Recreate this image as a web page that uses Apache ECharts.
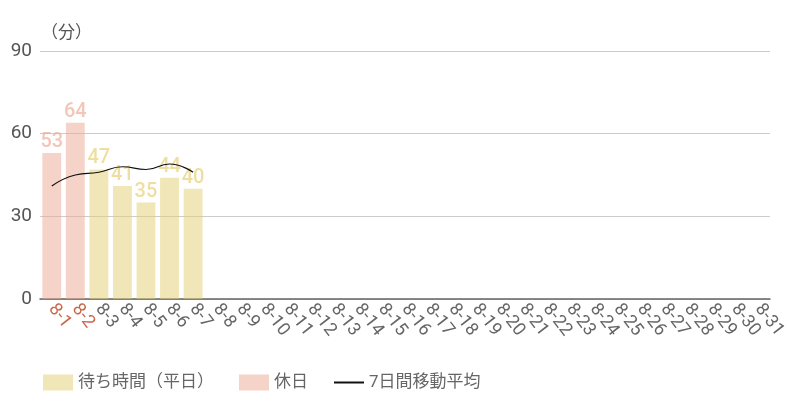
<!DOCTYPE html>
<html lang="ja">
<head>
    <meta charset="UTF-8">
    <title>待ち時間</title>
    <script src="https://cdn.jsdelivr.net/npm/echarts@6/dist/echarts.min.js"></script>
</head>
<style type="text/css">
    html,body,#chart{
        width: 800px;
        height: 400px;
        margin: 0;
        padding: 0;
        background: #fff;
    }
</style>
<body>
<div id="chart"></div>
<script>
    // 8月の日付
    var days = ['8-1','8-2','8-3','8-4','8-5','8-6','8-7','8-8','8-9','8-10','8-11','8-12','8-13','8-14','8-15','8-16',
        '8-17','8-18','8-19','8-20','8-21','8-22','8-23','8-24','8-25','8-26','8-27','8-28','8-29','8-30','8-31'];
    var holidays = ['8-1','8-2'];
    var weekdayWait = ['-','-',47,41,35,44,40];
    var holidayWait = [53,64];
    var movingAvg = [41,45,46,48,47,49,46];
    var yTicks = [0,30,60,90];

    var fontJa = 'Roboto, "Noto Sans CJK JP", sans-serif';
    var weekdayColor = 'rgba(228,206,112,0.5)';
    var holidayColor = 'rgba(236,168,146,0.5)';

    var myChart = echarts.init(document.getElementById('chart'));
    var options = {
        animation: false,
        textStyle: {fontFamily: fontJa},
        title: {
            text: '（分）',
            left: 36,
            top: 20,
            textStyle: {fontSize: 17, fontWeight: 'normal', color: '#555', fontFamily: fontJa}
        },
        grid: {left: 40, right: 30, top: 51, bottom: 101},
        legend: {
            left: 38,
            top: 369,
            itemWidth: 30,
            itemHeight: 16,
            itemGap: 25,
            textStyle: {fontSize: 17, color: '#666', fontFamily: fontJa},
            data: [
                {name: '待ち時間（平日）', icon: 'rect'},
                {name: '休日', icon: 'rect'},
                {name: '7日間移動平均', itemStyle: {opacity: 0}, lineStyle: {width: 2, color: '#111'}}
            ]
        },
        xAxis: {
            type: 'category',
            data: days,
            axisLine: {lineStyle: {color: '#666', width: 1.5}},
            axisTick: {show: false},
            axisLabel: {
                interval: 0,
                rotate: -52,
                fontSize: 18,
                margin: 7,
                fontFamily: fontJa,
                color: function (v) {
                    return holidays.indexOf(v) >= 0 ? '#c8684c' : '#666';
                }
            }
        },
        yAxis: {
            type: 'value',
            min: yTicks[0],
            max: yTicks[yTicks.length - 1],
            interval: 30,
            axisLine: {show: false},
            axisTick: {show: false},
            axisLabel: {fontSize: 19, color: '#555', margin: 8, fontFamily: fontJa},
            splitLine: {lineStyle: {color: '#ccc'}}
        },
        series: [{
            name: '待ち時間（平日）',
            type: 'bar',
            barWidth: '80%',
            barGap: '-100%',
            itemStyle: {color: weekdayColor},
            label: {
                show: true,
                position: 'top',
                distance: 1,
                fontSize: 20,
                fontWeight: 500,
                fontFamily: fontJa,
                color: 'rgba(228,206,112,0.65)'
            },
            data: weekdayWait
        }, {
            name: '休日',
            type: 'bar',
            barWidth: '80%',
            itemStyle: {color: holidayColor},
            label: {
                show: true,
                position: 'top',
                distance: 1,
                fontSize: 20,
                fontWeight: 500,
                fontFamily: fontJa,
                color: 'rgba(236,168,146,0.65)'
            },
            data: holidayWait
        }, {
            name: '7日間移動平均',
            type: 'line',
            smooth: true,
            symbol: 'none',
            lineStyle: {color: '#111', width: 1.2},
            itemStyle: {color: '#111'},
            data: movingAvg
        }]
    };
    myChart.setOption(options);
</script>
</body>
</html>
